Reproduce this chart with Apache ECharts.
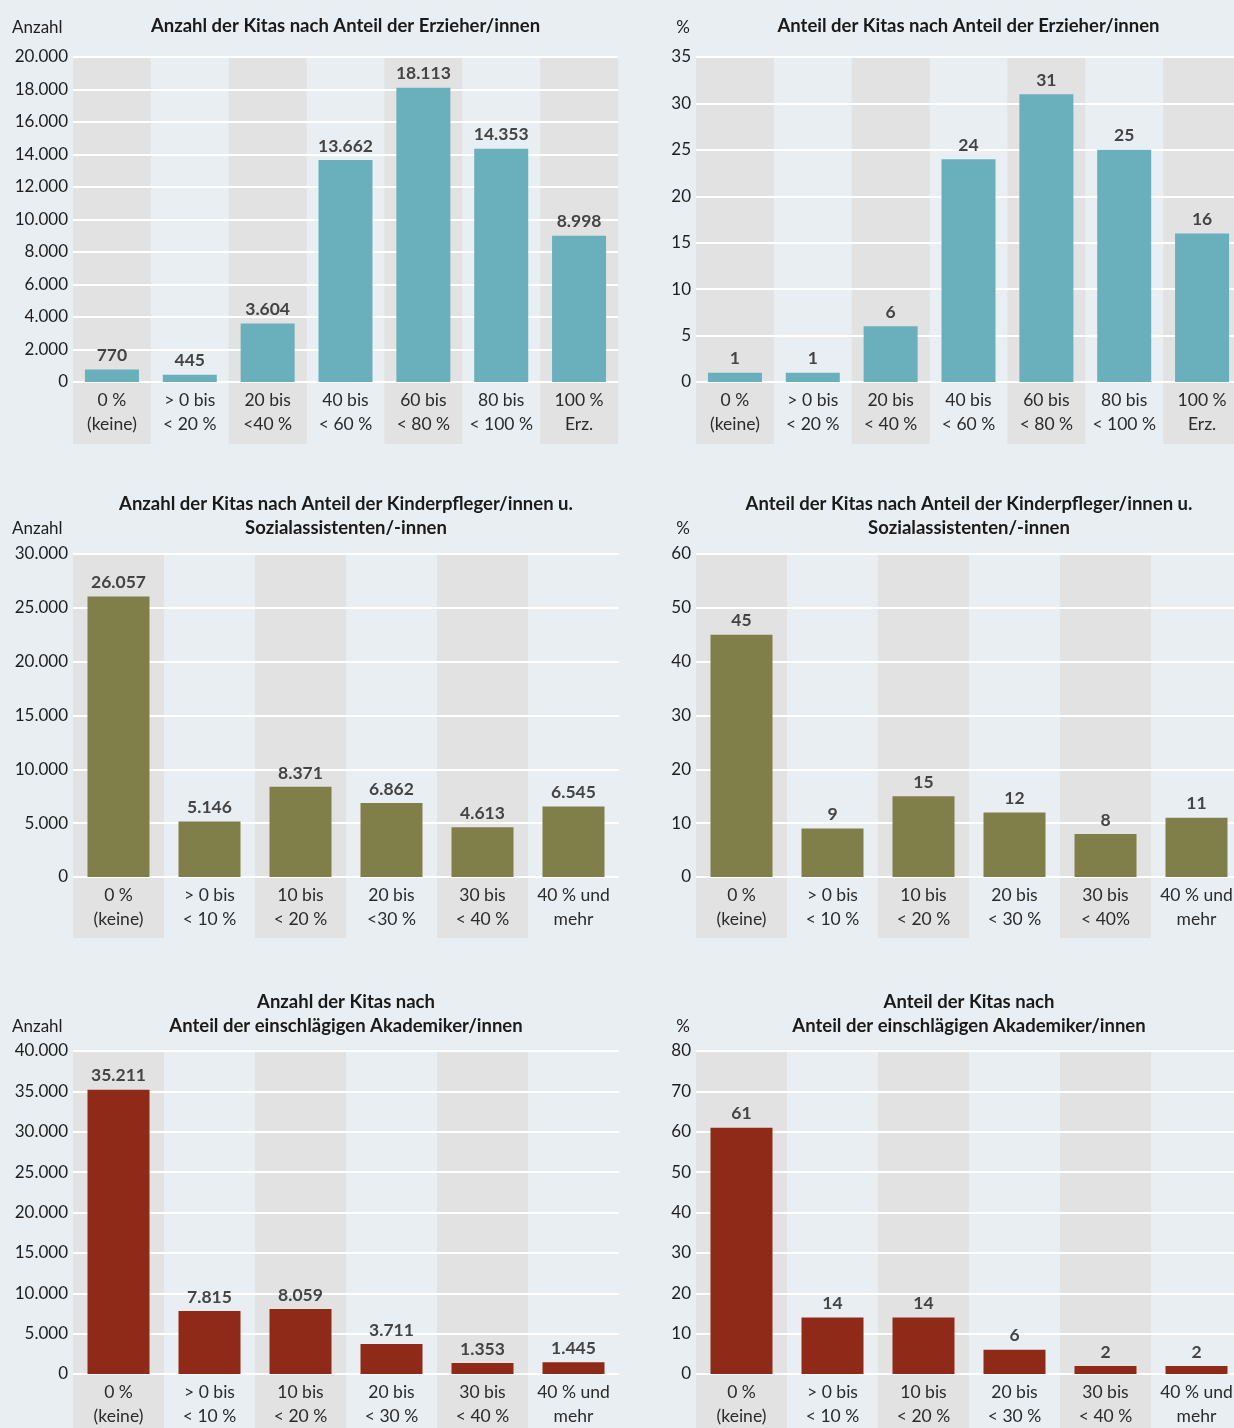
<!DOCTYPE html>
<html>
<head>
<meta charset="utf-8">
<script src="https://cdn.jsdelivr.net/npm/echarts@6/dist/echarts.min.js"></script>
<style>
html,body{margin:0;padding:0;background:#e8eef2;overflow:hidden;}
#c{width:1260px;height:1428px;}
</style>
</head>
<body>
<div id="c"></div>
<script>
// ---- Data ----
const catsErzAnzahl = ['0 %\n(keine)', '> 0 bis\n< 20 %', '20 bis\n<40 %', '40 bis\n< 60 %', '60 bis\n< 80 %', '80 bis\n< 100 %', '100 %\nErz.'];
const catsErzAnteil = ['0 %\n(keine)', '> 0 bis\n< 20 %', '20 bis\n< 40 %', '40 bis\n< 60 %', '60 bis\n< 80 %', '80 bis\n< 100 %', '100 %\nErz.'];
const valsErzAnzahl = [770, 445, 3604, 13662, 18113, 14353, 8998];
const valsErzAnteil = [1, 1, 6, 24, 31, 25, 16];

const catsKiAnzahl = ['0 %\n(keine)', '> 0 bis\n< 10 %', '10 bis\n< 20 %', '20 bis\n<30 %', '30 bis\n< 40 %', '40 % und\nmehr'];
const catsKiAnteil = ['0 %\n(keine)', '> 0 bis\n< 10 %', '10 bis\n< 20 %', '20 bis\n< 30 %', '30 bis\n< 40%', '40 % und\nmehr'];
const valsKiAnzahl = [26057, 5146, 8371, 6862, 4613, 6545];
const valsKiAnteil = [45, 9, 15, 12, 8, 11];

const catsAkAnzahl = ['0 %\n(keine)', '> 0 bis\n< 10 %', '10 bis\n< 20 %', '20 bis\n< 30 %', '30 bis\n< 40 %', '40 % und\nmehr'];
const catsAkAnteil = ['0 %\n(keine)', '> 0 bis\n< 10 %', '10 bis\n< 20 %', '20 bis\n< 30 %', '30 bis\n< 40 %', '40 % und\nmehr'];
const valsAkAnzahl = [35211, 7815, 8059, 3711, 1353, 1445];
const valsAkAnteil = [61, 14, 14, 6, 2, 2];

// y-axis tick ranges [max, interval]
const ticksErzAnzahl = [20000, 2000];
const ticksErzAnteil = [35, 5];
const ticksKiAnzahl = [30000, 5000];
const ticksKiAnteil = [60, 10];
const ticksAkAnzahl = [40000, 5000];
const ticksAkAnteil = [80, 10];

const titles = [
  'Anzahl der Kitas nach Anteil der Erzieher/innen',
  'Anteil der Kitas nach Anteil der Erzieher/innen',
  'Anzahl der Kitas nach Anteil der Kinderpfleger/innen u.\nSozialassistenten/-innen',
  'Anteil der Kitas nach Anteil der Kinderpfleger/innen u.\nSozialassistenten/-innen',
  'Anzahl der Kitas nach\nAnteil der einschlägigen Akademiker/innen',
  'Anteil der Kitas nach\nAnteil der einschlägigen Akademiker/innen'
];
const units = ['Anzahl', '%', 'Anzahl', '%', 'Anzahl', '%'];

// ---- Styling / layout ----
const FONT = 'Lato, "Noto Sans", sans-serif';
const TEAL = '#6aafbc', OLIVE = '#807f4a', RED = '#8f2a18';
const BAND = '#e2e2e2';

const panels = [
  {cats: catsErzAnzahl, vals: valsErzAnzahl, ticks: ticksErzAnzahl, color: TEAL, left: 73, width: 545, top: 57, zero: 382, bandBottom: 444, barWidth: 54, titleTop: 14, unitTop: 16, unitX: 12, unitAlign: 'left'},
  {cats: catsErzAnteil, vals: valsErzAnteil, ticks: ticksErzAnteil, color: TEAL, left: 696, width: 545, top: 57, zero: 382, bandBottom: 444, barWidth: 54, titleTop: 14, unitTop: 16, unitX: 683, unitAlign: 'center'},
  {cats: catsKiAnzahl, vals: valsKiAnzahl, ticks: ticksKiAnzahl, color: OLIVE, left: 73, width: 546, top: 554, zero: 877, bandBottom: 938, barWidth: 62, titleTop: 492, unitTop: 517, unitX: 12, unitAlign: 'left'},
  {cats: catsKiAnteil, vals: valsKiAnteil, ticks: ticksKiAnteil, color: OLIVE, left: 696, width: 546, top: 554, zero: 877, bandBottom: 938, barWidth: 62, titleTop: 492, unitTop: 517, unitX: 683, unitAlign: 'center'},
  {cats: catsAkAnzahl, vals: valsAkAnzahl, ticks: ticksAkAnzahl, color: RED, left: 73, width: 546, top: 1051, zero: 1374, bandBottom: 1440, barWidth: 62, titleTop: 990, unitTop: 1015, unitX: 12, unitAlign: 'left'},
  {cats: catsAkAnteil, vals: valsAkAnteil, ticks: ticksAkAnteil, color: RED, left: 696, width: 546, top: 1051, zero: 1374, bandBottom: 1440, barWidth: 62, titleTop: 990, unitTop: 1015, unitX: 683, unitAlign: 'center'}
];

const de = v => String(v).replace(/\B(?=(\d{3})+(?!\d))/g, '.');

const grid = [], xAxis = [], yAxis = [], series = [], graphic = [];

panels.forEach((p, i) => {
  const gMain = grid.length;
  grid.push({left: p.left, top: p.top, width: p.width, height: p.zero - p.top, containLabel: false});
  grid.push({left: p.left, top: p.zero, width: p.width, height: p.bandBottom - p.zero, containLabel: false});

  xAxis.push({
    type: 'category', gridIndex: gMain, data: p.cats, z: 0,
    axisLine: {show: false}, axisTick: {show: false},
    axisLabel: {interval: 0, margin: 6, color: '#2b2b2b', fontFamily: FONT, fontSize: 17.5, lineHeight: 24, verticalAlign: 'top'},
    splitArea: {show: true, interval: 0, areaStyle: {color: [BAND, 'rgba(0,0,0,0)']}},
    splitLine: {show: false}
  });
  xAxis.push({
    type: 'category', gridIndex: gMain + 1, data: p.cats, z: -1,
    axisLine: {show: false}, axisTick: {show: false}, axisLabel: {show: false},
    splitArea: {show: true, interval: 0, areaStyle: {color: [BAND, 'rgba(0,0,0,0)']}},
    splitLine: {show: false}
  });

  yAxis.push({
    type: 'value', gridIndex: gMain, min: 0, max: p.ticks[0], interval: p.ticks[1], z: 1,
    axisLine: {show: false}, axisTick: {show: false},
    axisLabel: {margin: 5, color: '#1e1e1e', fontFamily: FONT, fontSize: 17, formatter: v => de(v)},
    splitLine: {show: true, lineStyle: {color: '#ffffff', width: 2}}
  });
  yAxis.push({
    type: 'value', gridIndex: gMain + 1, min: 0, max: 1, show: false
  });

  series.push({
    type: 'bar', xAxisIndex: gMain, yAxisIndex: gMain, data: p.vals, z: 2,
    barWidth: p.barWidth,
    itemStyle: {color: p.color},
    label: {show: true, position: 'top', distance: 5, color: '#444444', fontFamily: FONT, fontWeight: 'bold', fontSize: 17.5, formatter: d => de(d.value)},
    silent: true, animation: false
  });
  series.push({
    type: 'bar', xAxisIndex: gMain + 1, yAxisIndex: gMain + 1, data: [], silent: true
  });

  graphic.push({
    type: 'text', x: p.left + p.width / 2, y: p.titleTop, silent: true,
    style: {text: titles[i], align: 'center', verticalAlign: 'top', textAlign: 'center', textVerticalAlign: 'top',
      fill: '#1a1a1a', font: 'bold 18.5px ' + FONT, lineHeight: 24}
  });
  graphic.push({
    type: 'text', x: p.unitX, y: p.unitTop, silent: true,
    style: {text: units[i], align: p.unitAlign, verticalAlign: 'top', textAlign: p.unitAlign, textVerticalAlign: 'top',
      fill: '#1e1e1e', font: '17px ' + FONT, lineHeight: 24}
  });
});

const chart = echarts.init(document.getElementById('c'), null, {renderer: 'canvas'});
chart.setOption({
  backgroundColor: '#e8eef2',
  animation: false,
  grid, xAxis, yAxis, series, graphic
});
</script>
</body>
</html>
